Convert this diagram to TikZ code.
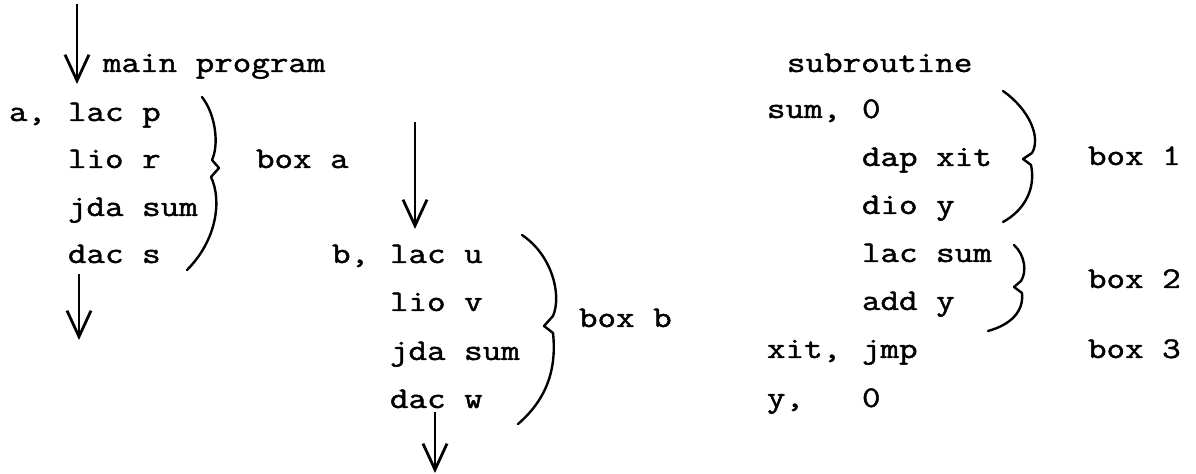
\documentclass[tikz,border=0pt]{standalone}
\usepackage{fontspec}
\usetikzlibrary{arrows.meta}
\tikzset{
  code/.style={anchor=base west, inner sep=0pt, outer sep=0pt,
    font=\fontsize{15}{17}\selectfont\ttfamily,
    execute at begin node={\special{pdf:literal direct 2 Tr 0.2 w}},
    execute at end node={\special{pdf:literal direct 0 Tr}},
    xscale=1.2, transform shape},
  flow/.style={line width=1.4pt, -{Straight Barb[length=13pt,width=12pt,line width=1.4pt]}},
  bracestroke/.style={line width=1.2pt, line cap=round, line join=round}
}
\begin{document}
\begin{tikzpicture}[x=0.5pt,y=-0.5pt]
\useasboundingbox (0,0) rectangle (1196,474);

% main program
\node[code] (mainprog) at (103,72) {main program};
\node[code] (la) at (9,121) {a,};
\node[code] (a1) at (68,121) {lac p};
\node[code] (a2) at (68,168) {lio r};
\node[code] (a3) at (68,216) {jda sum};
\node[code] (a4) at (68,263) {dac s};
\node[code] (boxa) at (256,168) {box a};

\node[code] (lb) at (332,263) {b,};
\node[code] (b1) at (390,263) {lac u};
\node[code] (b2) at (390,311) {lio v};
\node[code] (b3) at (390,360) {jda sum};
\node[code] (b4) at (390,408) {dac w};
\node[code] (boxb) at (579,327) {box b};

% subroutine
\node[code] (sub) at (787,72) {subroutine};
\node[code] (lsum) at (767,118) {sum,};
\node[code] (s0) at (862,118) {0};
\node[code] (s1) at (862,166) {dap xit};
\node[code] (s2) at (862,214) {dio y};
\node[code] (s3) at (862,262) {lac sum};
\node[code] (s4) at (862,310) {add y};
\node[code] (lxit) at (767,358) {xit,};
\node[code] (s5) at (862,358) {jmp};
\node[code] (ly) at (767,407) {y,};
\node[code] (s6) at (862,407) {0};
\node[code] (box1) at (1088,165) {box 1};
\node[code] (box2) at (1088,288) {box 2};
\node[code] (box3) at (1088,358) {box 3};

% flow arrows
\coordinate (ar1s) at (77,4);   \coordinate (ar1e) at (77,84);
\coordinate (ar2s) at (79,274); \coordinate (ar2e) at (79,340);
\coordinate (ar3s) at (415,122); \coordinate (ar3e) at (415,229);
\coordinate (ar4s) at (435,412); \coordinate (ar4e) at (435,473);
\draw[flow] (ar1s) -- (ar1e);
\draw[flow] (ar2s) -- (ar2e);
\draw[flow] (ar3s) -- (ar3e);
\draw[flow] (ar4s) -- (ar4e);

% braces
\draw[bracestroke] (202,97) .. controls (216,115) and (219,145) .. (212,160)
  -- (219,168) -- (211,177) .. controls (222,200) and (217,240) .. (187,270);
\draw[bracestroke] (522,235) .. controls (552,255) and (562,295) .. (553,316)
  -- (544,326) -- (553,333) .. controls (557,370) and (546,400) .. (518,424);
\draw[bracestroke] (1003,91) .. controls (1030,110) and (1041,138) .. (1032,153)
  -- (1023,159) -- (1031,165) .. controls (1036,188) and (1025,210) .. (1003,222);
\draw[bracestroke] (1014,245) .. controls (1025,255) and (1027,272) .. (1021,281)
  -- (1014,287) -- (1022,293) .. controls (1024,312) and (1010,325) .. (988,331);
\end{tikzpicture}
\end{document}
